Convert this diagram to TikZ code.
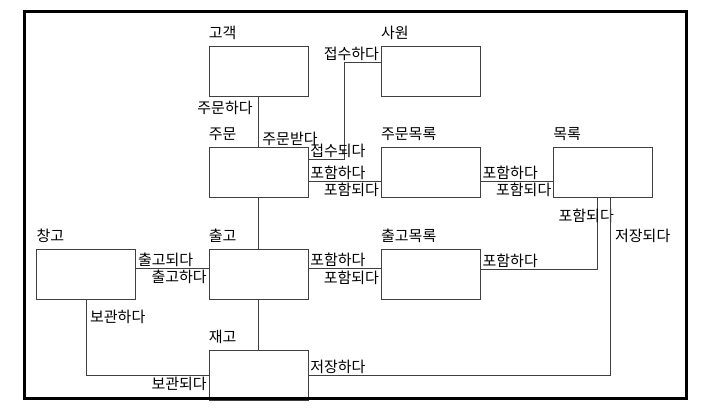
\documentclass[tikz,border=0pt]{standalone}
\usepackage{fontspec}
\setmainfont{Noto Sans CJK KR}
\usetikzlibrary{positioning,calc}

\begin{document}
\begin{tikzpicture}[
        x=1pt, y=-1pt,
        node distance=50.7pt and 72.5pt,
        font=\fontsize{15pt}{18pt}\selectfont,
        box/.style={rectangle, draw=black!75, line width=0.8pt, minimum width=99pt, minimum height=50pt, inner sep=0pt},
        title/.style={anchor=south west, inner sep=0pt, yshift=6pt},
        rel/.style={inner sep=1.5pt},
        link/.style={draw=black!75, line width=0.8pt}
    ]
        \useasboundingbox (0,0) rectangle (701,411);

        % entities
        \node[box] (gogaek) at (258.5,71) {};
        \node[box, below=of gogaek] (jumun) {};
        \node[box, below=of jumun] (chulgo) {};
        \node[box, below=of chulgo] (jaego) {};
        \node[box, left=of chulgo] (changgo) {};
        \node[box, right=of gogaek] (sawon) {};
        \node[box, right=of jumun] (jumunmokrok) {};
        \node[box, right=of chulgo] (chulgomokrok) {};
        \node[box, right=of jumunmokrok] (mokrok) {};

        % titles
        \node[title] (tGogaek) at (gogaek.north west) {고객};
        \node[title] (tJumun) at (jumun.north west) {주문};
        \node[title] (tChulgo) at (chulgo.north west) {출고};
        \node[title] (tJaego) at (jaego.north west) {재고};
        \node[title] (tChanggo) at (changgo.north west) {창고};
        \node[title] (tSawon) at (sawon.north west) {사원};
        \node[title] (tJumunmokrok) at (jumunmokrok.north west) {주문목록};
        \node[title] (tChulgomokrok) at (chulgomokrok.north west) {출고목록};
        \node[title] (tMokrok) at (mokrok.north west) {목록};

        % 고객 - 주문
        \draw[link] (gogaek) -- (jumun)
            node[rel, at start, anchor=north east, xshift=-4pt, yshift=-3pt] (rJumunhada) {주문하다}
            node[rel, at end, anchor=south west, xshift=2pt] (rJumunbatda) {주문받다};

        % 사원 - 주문
        \draw[link] ([yshift=-12pt]jumun.north east)
            node[rel, anchor=south west] (rJeopsudoeda) {접수되다}
            -- ++(36,0) |- ([yshift=-17pt]sawon.north west)
            node[rel, at end, anchor=south east] (rJeopsuhada) {접수하다};

        % 주문 - 주문목록
        \draw[link] ([yshift=-34pt]jumun.north east) -- ([yshift=-34pt]jumunmokrok.north west)
            node[rel, at start, anchor=south west] (rPohamhada1) {포함하다}
            node[rel, at end, anchor=north east] (rPohamdoeda1) {포함되다};

        % 주문목록 - 목록
        \draw[link] ([yshift=-34pt]jumunmokrok.north east) -- ([yshift=-34pt]mokrok.north west)
            node[rel, at start, anchor=south west] (rPohamhada2) {포함하다}
            node[rel, at end, anchor=north east] (rPohamdoeda2) {포함되다};

        % 목록 - 출고목록
        \draw[link] ([xshift=44pt]mokrok.south west)
            node[rel, anchor=north, xshift=-11pt, yshift=-9pt] (rPohamdoeda3) {포함되다}
            |- ([yshift=-21pt]chulgomokrok.north east)
            node[rel, at end, anchor=south west] (rPohamhada3) {포함하다};

        % 목록 - 재고
        \draw[link] ([xshift=57pt]mokrok.south west)
            node[rel, anchor=north west, xshift=3pt, yshift=-29pt] (rJeojangdoeda) {저장되다}
            |- ([yshift=-25pt]jaego.north east)
            node[rel, at end, anchor=south west] (rJeojanghada) {저장하다};

        % 주문 - 출고, 출고 - 재고
        \draw[link] (jumun) -- (chulgo);
        \draw[link] (chulgo) -- (jaego);

        % 출고 - 출고목록
        \draw[link] ([yshift=-20pt]chulgo.north east) -- ([yshift=-20pt]chulgomokrok.north west)
            node[rel, at start, anchor=south west] (rPohamhada4) {포함하다}
            node[rel, at end, anchor=north east] (rPohamdoeda4) {포함되다};

        % 창고 - 출고
        \draw[link] ([yshift=-20pt]changgo.north east) -- ([yshift=-20pt]chulgo.north west)
            node[rel, at start, anchor=south west] (rChulgodoeda) {출고되다}
            node[rel, at end, anchor=north east] (rChulgohada) {출고하다};

        % 창고 - 재고
        \draw[link] (changgo.south)
            node[rel, anchor=north west, xshift=2pt, yshift=-9pt] (rBogwanhada) {보관하다}
            |- ([yshift=-25pt]jaego.north west)
            node[rel, at end, anchor=north east] (rBogwandoeda) {보관되다};

        % frame
        \draw[line width=3pt] (24.5,11.5) rectangle (686.5,398.5);

    \end{tikzpicture}
\end{document}
